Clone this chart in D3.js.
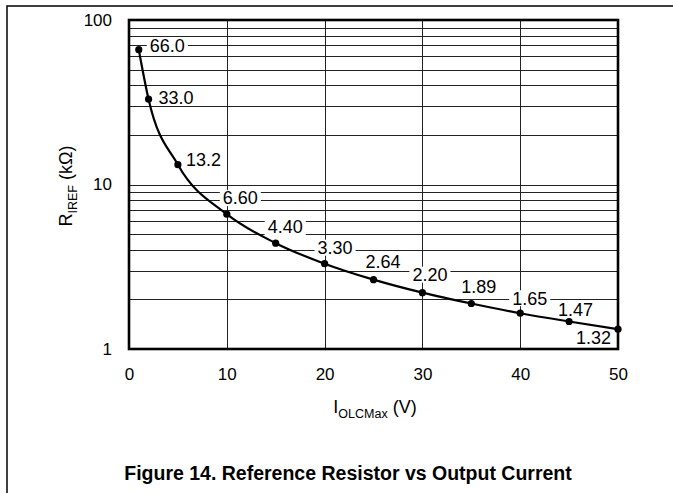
<!DOCTYPE html>
<html><head><meta charset="utf-8">
<script src="https://cdn.jsdelivr.net/npm/d3@7"></script>
<style>body{margin:0;background:#fff}svg{display:block}text{font-family:"Liberation Sans",Arial,sans-serif}</style>
</head><body>
<svg id="c" width="673" height="493"></svg>
<script>
const currents = [1, 2, 5, 10, 15, 20, 25, 30, 35, 40, 45, 50];
const resistances = [66.0, 33.0, 13.2, 6.60, 4.40, 3.30, 2.64, 2.20, 1.89, 1.65, 1.47, 1.32];
const pointLabels = ["66.0", "33.0", "13.2", "6.60", "4.40", "3.30", "2.64", "2.20", "1.89", "1.65", "1.47", "1.32"];
const xTicks = [0, 10, 20, 30, 40, 50];
const yTicks = [1, 10, 100];
const yGrid = [2,3,4,5,6,7,8,9,10,20,30,40,50,60,70,80,90];

const svg = d3.select("#c");
const M = {l:129, r:618, t:20, b:349};
const x = d3.scaleLinear().domain([0,50]).range([M.l, M.r]);
const y = d3.scaleLog().domain([1,100]).range([M.b, M.t]);

// outer frame
svg.append("path").attr("d","M7,493V6H673").attr("fill","none").attr("stroke","#000").attr("stroke-width",1.5);

// grid
const g = svg.append("g");
g.selectAll("line.h").data(yGrid).join("line")
  .attr("x1",M.l).attr("x2",M.r).attr("y1",d=>Math.round(y(d))+0.5).attr("y2",d=>Math.round(y(d))+0.5)
  .attr("stroke","#222").attr("stroke-width",1);
g.selectAll("line.v").data(xTicks.slice(1,-1)).join("line")
  .attr("y1",M.t).attr("y2",M.b).attr("x1",d=>Math.round(x(d))+0.5).attr("x2",d=>Math.round(x(d))+0.5)
  .attr("stroke","#222").attr("stroke-width",1);

// axes (labels only, via d3 axes)
const xAxis = svg.append("g").attr("transform",`translate(0,${M.b})`)
  .call(d3.axisBottom(x).tickValues(xTicks).tickSize(0).tickPadding(19).tickFormat(d3.format("d")));
xAxis.select(".domain").remove();
xAxis.selectAll("text").attr("font-size",17).attr("fill","#000").attr("font-family","Liberation Sans, Arial, sans-serif");
const yAxis = svg.append("g").attr("transform",`translate(${M.l},0)`)
  .call(d3.axisLeft(y).tickValues(yTicks).tickSize(0).tickPadding(17).tickFormat(d3.format("d")));
yAxis.select(".domain").remove();
yAxis.selectAll("text").attr("font-size",17).attr("fill","#000").attr("font-family","Liberation Sans, Arial, sans-serif");

// point labels with white boxes
const labelOffsets = [[11,-4],[10,-2],[8,-5],[-4,-16],[-8,-16],[-7,-16],[-8,-18],[-10,-18],[-10,-17],[-8,-15],[-11,-12],[-42,9]];
const lg = svg.append("g");
currents.forEach((c,i)=>{
  const px = x(c)+labelOffsets[i][0], py = y(resistances[i])+labelOffsets[i][1];
  const t = lg.append("text").attr("x",px).attr("y",py).attr("dy","0.35em")
    .attr("font-size",18).text(pointLabels[i]);
  const bb = t.node().getBBox();
  lg.insert("rect","text").attr("x",bb.x-3).attr("y",py-8).attr("width",bb.width+6).attr("height",16).attr("fill","#fff");
});
lg.selectAll("rect").lower();
lg.lower();
g.lower();

// curve
const pts = currents.map((c,i)=>[c,resistances[i]]);
svg.append("path").datum(pts)
  .attr("d", d3.line().x(d=>x(d[0])).y(d=>y(d[1])).curve(d3.curveMonotoneX))
  .attr("fill","none").attr("stroke","#000").attr("stroke-width",2.2);
svg.selectAll("circle.p").data(pts).join("circle")
  .attr("cx",d=>x(d[0])).attr("cy",d=>y(d[1])).attr("r",3.6).attr("fill","#000");

// plot border
svg.append("rect").attr("x",M.l).attr("y",M.t).attr("width",M.r-M.l).attr("height",M.b-M.t)
  .attr("fill","none").attr("stroke","#000").attr("stroke-width",2.6);

// axis titles
const xt = svg.append("text").attr("x",375).attr("y",413).attr("text-anchor","middle").attr("font-size",18);
xt.append("tspan").text("I");
xt.append("tspan").attr("font-size",12.5).attr("dy",5).text("OLCMax");
xt.append("tspan").attr("dy",-5).text(" (V)");

const yt = svg.append("text").attr("transform","translate(72,186) rotate(-90)").attr("text-anchor","middle").attr("font-size",18);
yt.append("tspan").text("R");
yt.append("tspan").attr("font-size",12.5).attr("dy",5).text("IREF");
yt.append("tspan").attr("dy",-5).text(" (kΩ)");

// caption
svg.append("text").attr("x",348).attr("y",480).attr("text-anchor","middle")
  .attr("font-size",19.5).attr("font-weight","bold").text("Figure 14. Reference Resistor vs Output Current");
</script>
</body></html>
